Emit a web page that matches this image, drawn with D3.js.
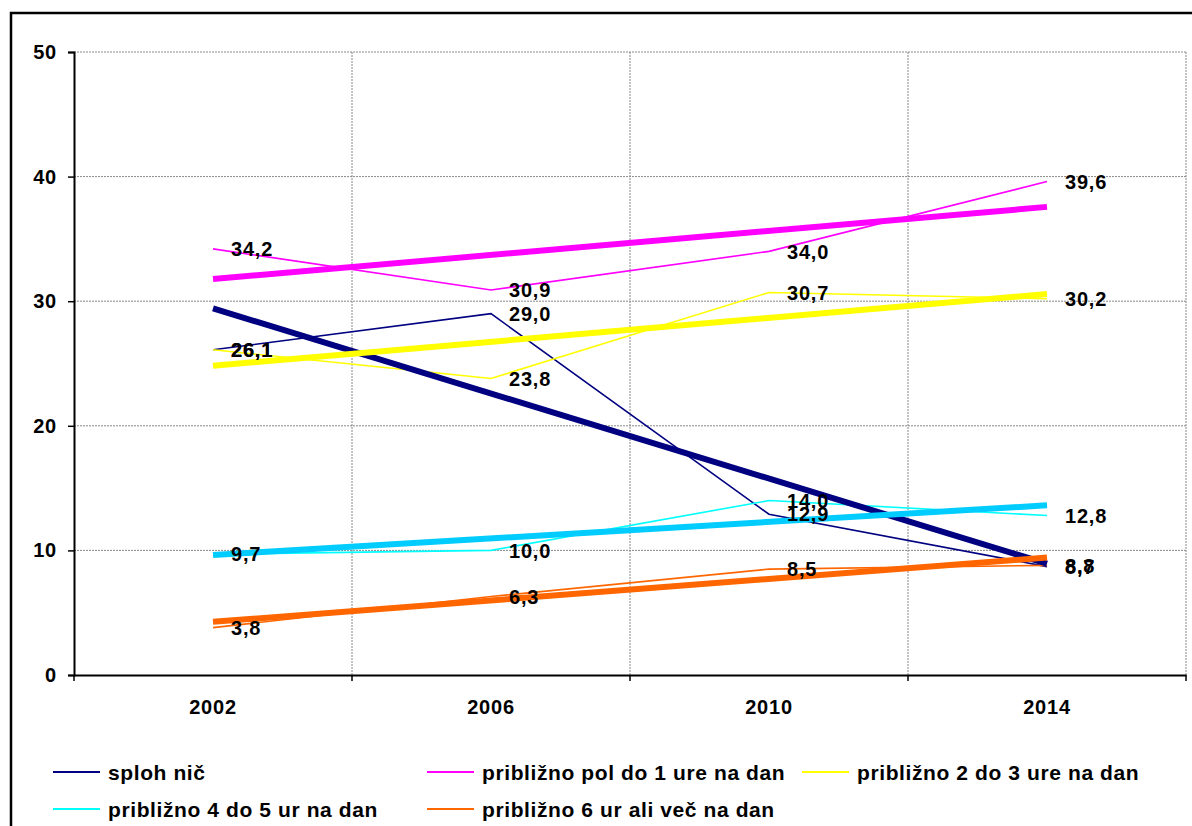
<!DOCTYPE html>
<html>
<head>
<meta charset="utf-8">
<script src="https://cdn.jsdelivr.net/npm/d3@7"></script>
<style>
  body { margin: 0; background: #fff; }
  text { font-family: "Liberation Sans", Arial, sans-serif; font-weight: bold; }
</style>
</head>
<body>
<div id="chart"></div>
<script>
// data
var years = ["2002", "2006", "2010", "2014"];
var splohNic = [26.1, 29.0, 12.9, 8.7];
var polDo1 = [34.2, 30.9, 34.0, 39.6];
var dva3 = [26.1, 23.8, 30.7, 30.2];
var stiri5 = [9.7, 10.0, 14.0, 12.8];
var sest = [3.8, 6.3, 8.5, 8.8];
var seriesNames = [
  "sploh nič",
  "približno pol do 1 ure na dan",
  "približno 2 do 3 ure na dan",
  "približno 4 do 5 ur na dan",
  "približno 6 ur ali več na dan"
];
var yTicks = [0, 10, 20, 30, 40, 50];

var series = [
  { name: seriesNames[0], values: splohNic, color: "#000080", trend: "#000080" },
  { name: seriesNames[1], values: polDo1, color: "#FF00FF", trend: "#FF00FF" },
  { name: seriesNames[2], values: dva3, color: "#FFFF00", trend: "#FFFF00" },
  { name: seriesNames[3], values: stiri5, color: "#00FFFF", trend: "#00CCFF" },
  { name: seriesNames[4], values: sest, color: "#FF6600", trend: "#FF6600" }
];

var W = 1192, H = 826;
var plot = { left: 74, right: 1186, top: 52, bottom: 675 };

var svg = d3.select("#chart").append("svg")
  .attr("width", W)
  .attr("height", H);

// outer frame (goes past the window on the right and bottom)
svg.append("rect")
  .attr("x", 11).attr("y", 13)
  .attr("width", 1300).attr("height", 1000)
  .attr("fill", "none").attr("stroke", "#000").attr("stroke-width", 2.5);

var x = d3.scaleBand()
  .domain(years)
  .range([plot.left, plot.right]);
var cx = function (yr) { return x(yr) + x.bandwidth() / 2; };

var y = d3.scaleLinear()
  .domain([0, 50])
  .range([plot.bottom, plot.top]);

// grid
var grid = svg.append("g");
grid.selectAll(".hg")
  .data(yTicks.filter(function (d) { return d > 0; }))
  .enter().append("line")
  .attr("x1", plot.left).attr("x2", plot.right)
  .attr("y1", function (d) { return y(d); }).attr("y2", function (d) { return y(d); })
  .attr("stroke", "#888").attr("stroke-dasharray", "2,1").attr("stroke-width", 1);

var bounds = years.slice(1).map(function (d) { return x(d); }).concat([plot.right]);
grid.selectAll(".vg")
  .data(bounds)
  .enter().append("line")
  .attr("x1", function (d) { return d; }).attr("x2", function (d) { return d; })
  .attr("y1", plot.top).attr("y2", plot.bottom)
  .attr("stroke", "#888").attr("stroke-dasharray", "2,1").attr("stroke-width", 1);

// axes
var yAxis = svg.append("g")
  .attr("transform", "translate(" + plot.left + ",0)")
  .call(d3.axisLeft(y).tickValues(yTicks).tickSize(6).tickPadding(11).tickFormat(d3.format("d")));
yAxis.select(".domain").attr("stroke-width", 2);
yAxis.selectAll(".tick line").attr("stroke-width", 1.5);
yAxis.selectAll("text").style("font-size", "20px").style("letter-spacing", "0.8px").attr("fill", "#000");

var xAxis = svg.append("g")
  .attr("transform", "translate(0," + plot.bottom + ")")
  .call(d3.axisBottom(x).tickSize(0).tickPadding(25));
xAxis.select(".domain").attr("stroke-width", 2);
xAxis.selectAll("text").style("font-size", "20px").style("letter-spacing", "0.8px").attr("fill", "#000");
xAxis.selectAll(".bt")
  .data([plot.left].concat(bounds))
  .enter().append("line")
  .attr("x1", function (d) { return d; }).attr("x2", function (d) { return d; })
  .attr("y1", 0).attr("y2", 6)
  .attr("stroke", "#000").attr("stroke-width", 1.5);

// thin data lines
var line = d3.line()
  .x(function (d, i) { return cx(years[i]); })
  .y(function (d) { return y(d); });

svg.append("g").selectAll("path")
  .data(series)
  .enter().append("path")
  .attr("d", function (s) { return line(s.values); })
  .attr("fill", "none")
  .attr("stroke", function (s) { return s.color; })
  .attr("stroke-width", 1.6);

// linear trend lines
function trend(vals) {
  var n = vals.length, mx = (n - 1) / 2, my = d3.mean(vals);
  var num = 0, den = 0;
  vals.forEach(function (v, i) { num += (i - mx) * (v - my); den += (i - mx) * (i - mx); });
  var b = num / den, a = my - b * mx;
  return [a, a + b * (n - 1)];
}

svg.append("g").selectAll("line")
  .data(series)
  .enter().append("line")
  .each(function (s) {
    var t = trend(s.values);
    d3.select(this)
      .attr("x1", cx(years[0])).attr("y1", y(t[0]))
      .attr("x2", cx(years[years.length - 1])).attr("y2", y(t[1]));
  })
  .attr("stroke", function (s) { return s.trend; })
  .attr("stroke-width", 6);

// value labels
var fmt = function (v) { return v.toFixed(1).replace(".", ","); };
series.forEach(function (s) {
  svg.append("g").selectAll("text")
    .data(s.values)
    .enter().append("text")
    .attr("x", function (d, i) { return cx(years[i]) + 18; })
    .attr("y", function (d) { return y(d); })
    .attr("dy", "0.36em")
    .style("font-size", "20px")
    .style("letter-spacing", "0.8px")
    .text(fmt);
});

// legend
var legendPos = [
  { x: 53, y: 772 }, { x: 427, y: 772 }, { x: 802, y: 772 },
  { x: 53, y: 809 }, { x: 427, y: 809 }
];
var lg = svg.append("g").selectAll("g")
  .data(series)
  .enter().append("g")
  .attr("transform", function (s, i) { return "translate(" + legendPos[i].x + "," + legendPos[i].y + ")"; });
lg.append("line")
  .attr("x1", 0).attr("x2", 47)
  .attr("stroke", function (s) { return s.color; })
  .attr("stroke-width", 2);
lg.append("text")
  .attr("x", 55)
  .attr("dy", "0.36em")
  .style("font-size", "21px")
  .style("letter-spacing", "0.6px")
  .text(function (s) { return s.name; });
</script>
</body>
</html>
